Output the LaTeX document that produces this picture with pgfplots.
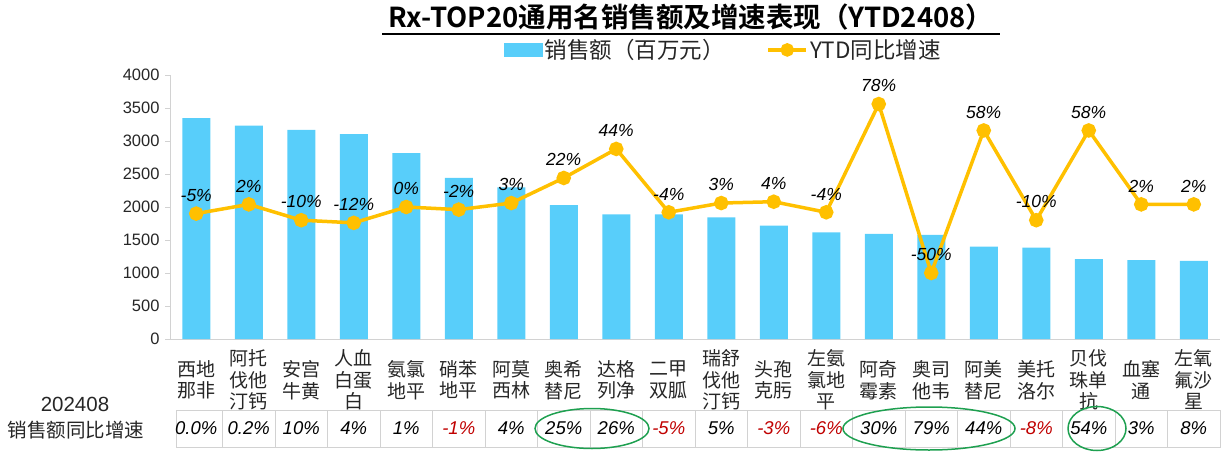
\documentclass[border=0pt]{standalone}
\usepackage{fontspec}
\usepackage{pgfplots}
\pgfplotsset{compat=1.18}
\setmainfont{Liberation Sans}
\newfontfamily\cjk{Noto Sans CJK SC}[BoldFont={Noto Sans CJK SC Bold}]
\definecolor{barblue}{RGB}{88,206,250}
\definecolor{gold}{RGB}{255,192,0}
\definecolor{negred}{RGB}{192,0,0}
\definecolor{ellgreen}{RGB}{30,160,80}
\definecolor{txt}{RGB}{38,38,38}
\definecolor{axgray}{RGB}{210,210,210}
\begin{document}
\begin{tikzpicture}[x=1pt,y=1pt]
\useasboundingbox (0,0) rectangle (1231,451);
% title
\node[font=\cjk\bfseries\fontsize{27.5}{27.5}\selectfont, inner sep=0pt, anchor=base, text=black] at (691,423) {Rx-TOP20通用名销售额及增速表现（YTD2408）};
\draw[line width=1.5pt] (382,417) -- (1000,417);
\begin{axis}[
  at={(170pt,112pt)}, anchor=south west, scale only axis,
  width=1050pt, height=264pt,
  xmin=-0.5, xmax=19.5, ymin=0, ymax=4000,
  ytick={0,500,...,4000},
  xtick={0,...,19},
  xticklabels={{西地\\那非},{阿托\\伐他\\汀钙},{安宫\\牛黄},{人血\\白蛋\\白},{氨氯\\地平},{硝苯\\地平},{阿莫\\西林},{奥希\\替尼},{达格\\列净},{二甲\\双胍},{瑞舒\\伐他\\汀钙},{头孢\\克肟},{左氨\\氯地\\平},{阿奇\\霉素},{奥司\\他韦},{阿美\\替尼},{美托\\洛尔},{贝伐\\珠单\\抗},{血塞\\通},{左氧\\氟沙\\星}},
  axis x line*=bottom, axis y line*=left,
  x axis line style={draw=axgray, line width=1pt, -},
  y axis line style={draw=axgray, line width=1pt, -},
  xtick style={draw=none},
  ytick style={draw=axgray, line width=1pt},
  tick align=outside, major tick length=5pt,
  /pgf/number format/assume math mode=true,
  /pgf/number format/1000 sep={},
  yticklabel style={font=\fontsize{16.5}{18}\selectfont, text=txt, xshift=-2pt},
  xticklabel style={font=\cjk\fontsize{19}{21.5}\selectfont, align=center, anchor=center, yshift=-36pt, text=txt},
  clip=false,
]
\addplot[ybar, bar width=28pt, fill=barblue, draw=none] coordinates {
(0,3348) (1,3232) (2,3167) (3,3106) (4,2818) (5,2440) (6,2298) (7,2030) (8,1889) (9,1889)
(10,1843) (11,1717) (12,1616) (13,1591) (14,1576) (15,1399) (16,1384) (17,1212) (18,1197) (19,1182)
};
\end{axis}
\begin{axis}[
  at={(170pt,112pt)}, anchor=south west, scale only axis,
  width=1050pt, height=264pt,
  xmin=-0.5, xmax=19.5, ymin=-100, ymax=100,
  hide axis, clip=false,
  legend columns=2,
  legend style={at={(0.527,1.095)}, anchor=center, draw=none, fill=none,
    font=\cjk\fontsize{22.5}{24}\selectfont, text=txt,
    /tikz/every even column/.append style={column sep=40pt}},
]
\addlegendimage{legend image code/.code={\fill[barblue] (0pt,-6pt) rectangle (38pt,7pt);}}
\addlegendentry{销售额（百万元）}
\addplot[gold, line width=3.5pt, mark=*, mark size=5.5pt, mark options={fill=gold, draw=gold},
  nodes near coords, point meta=explicit symbolic,
  every node near coord/.style={font=\itshape\fontsize{17.5}{17.5}\selectfont, text=black, anchor=south, yshift=7pt},
  legend image code/.code={\draw[gold,line width=3.5pt] (0pt,0pt)--(38pt,0pt); \fill[gold] (19pt,0pt) circle (5pt);}
] coordinates {
(0,-5) [-5\%] (1,2) [2\%] (2,-10) [-10\%] (3,-12) [-12\%] (4,0) [0\%] (5,-2) [-2\%] (6,3) [3\%]
(7,22) [22\%] (8,44) [44\%] (9,-4) [-4\%] (10,3) [3\%] (11,4) [4\%] (12,-4) [-4\%] (13,78) [78\%]
(14,-50) [-50\%] (15,58) [58\%] (16,-10) [-10\%] (17,58) [58\%] (18,2) [2\%] (19,2) [2\%]
};
\addlegendentry{YTD同比增速}
\end{axis}
% bottom table
\node[font=\fontsize{20.5}{20.5}\selectfont, text=txt] at (75,47) {202408};
\node[font=\cjk\fontsize{19.5}{19.5}\selectfont, text=txt] at (76,21) {销售额同比增速};
\draw[axgray, line width=0.8pt] (176,4) rectangle (1220,41);
\foreach \v/\c [count=\i from 0] in {0.0\%/black,0.2\%/black,10\%/black,4\%/black,1\%/black,-1\%/negred,4\%/black,25\%/black,26\%/black,-5\%/negred,5\%/black,-3\%/negred,-6\%/negred,30\%/black,79\%/black,44\%/black,-8\%/negred,54\%/black,3\%/black,8\%/black}{
  \node[font=\itshape\fontsize{18.5}{18.5}\selectfont, text=\c] at ({196.25+52.5*\i},22.5) {\v};
  \ifnum\i>0 \draw[axgray, line width=0.8pt] ({170+52.5*\i},4) -- ({170+52.5*\i},41); \fi
}
\draw[ellgreen, line width=1.5pt] (592,22.5) ellipse (57pt and 20pt);
\draw[ellgreen, line width=1.5pt] (929,22.5) ellipse (86pt and 21.5pt);
\draw[ellgreen, line width=1.5pt] (1097,22.5) ellipse (29pt and 22pt);
\end{tikzpicture}
\end{document}
